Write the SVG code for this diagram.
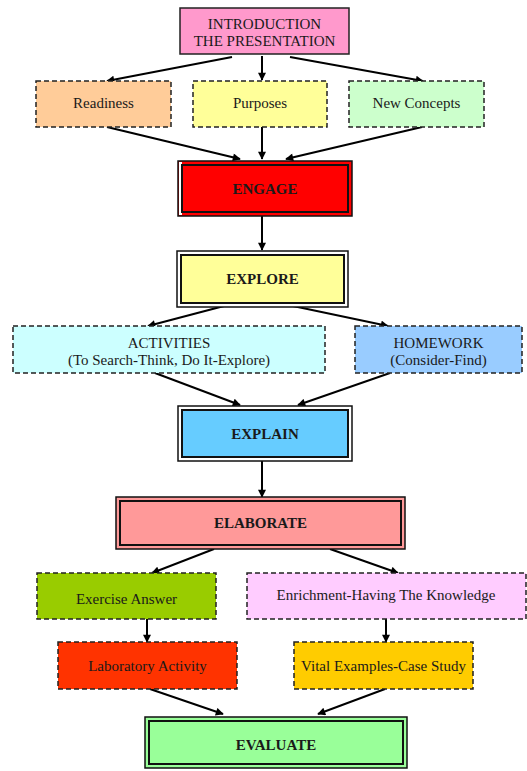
<svg xmlns="http://www.w3.org/2000/svg" width="527" height="771" viewBox="0 0 527 771">
<defs>
<marker id="ah" viewBox="0 0 10 10" refX="9" refY="5" markerWidth="9" markerHeight="8" markerUnits="userSpaceOnUse" orient="auto">
<path d="M0,0 L10,5 L0,10 z" fill="#000"/>
</marker>
<style>
text{font-family:"Liberation Serif","Times New Roman",serif;font-size:15px;fill:#1a1a1a;text-anchor:middle}
.b{font-weight:bold}
.dash{stroke:#222;stroke-width:1.5;stroke-dasharray:5,3}
.solid{stroke:#222;stroke-width:1.5}
.outer{stroke:#111;stroke-width:1.5}
.inner{stroke:#111;stroke-width:2}
.c line{stroke:#000;stroke-width:2;marker-end:url(#ah)}
</style>
</defs>
<rect width="527" height="771" fill="#fff"/>
<g class="c" id="connectors">
<line x1="232" y1="57" x2="107" y2="81"/>
<line x1="262" y1="56" x2="262" y2="80"/>
<line x1="290" y1="57" x2="423" y2="81"/>
<line x1="107" y1="127" x2="240" y2="159"/>
<line x1="262" y1="127" x2="262" y2="159"/>
<line x1="422" y1="127" x2="286" y2="159"/>
<line x1="262" y1="216" x2="262" y2="250"/>
<line x1="224" y1="306" x2="148" y2="326"/>
<line x1="293" y1="306" x2="388" y2="326"/>
<line x1="155" y1="373" x2="240" y2="405"/>
<line x1="390" y1="373" x2="298" y2="405"/>
<line x1="262" y1="461" x2="262" y2="497"/>
<line x1="214" y1="549" x2="152" y2="573"/>
<line x1="330" y1="549" x2="398" y2="573"/>
<line x1="147" y1="619" x2="147" y2="642"/>
<line x1="386" y1="619" x2="386" y2="642"/>
<line x1="150" y1="689" x2="223" y2="714"/>
<line x1="385" y1="689" x2="318" y2="714"/>
</g>
<g id="intro">
<rect x="180" y="8" width="169" height="46" fill="#FF99CC" class="solid"/>
<text x="264.5" y="29">INTRODUCTION</text>
<text x="264.5" y="46">THE PRESENTATION</text>
</g>
<g id="readiness">
<rect x="36" y="81" width="135" height="46" fill="#FFCC99" class="dash"/>
<text x="103.5" y="108">Readiness</text>
</g>
<g id="purposes">
<rect x="193" y="81" width="134" height="46" fill="#FFFF99" class="dash"/>
<text x="260" y="108">Purposes</text>
</g>
<g id="newconcepts">
<rect x="349" y="81" width="135" height="46" fill="#CCFFCC" class="dash"/>
<text x="416.5" y="108">New Concepts</text>
</g>
<g id="engage">
<rect x="178" y="161" width="174" height="55" fill="#FF0000" class="outer"/>
<rect x="179" y="162" width="3" height="53" fill="#fff"/>
<rect x="182" y="165" width="166" height="47" fill="#FF0000" class="inner"/>
<text x="265" y="194" class="b">ENGAGE</text>
</g>
<g id="explore">
<rect x="177" y="251" width="171" height="56" fill="#fff" class="outer"/>
<rect x="181" y="255" width="163" height="48" fill="#FFFF99" class="inner"/>
<text x="262.5" y="284" class="b">EXPLORE</text>
</g>
<g id="activities">
<rect x="13" y="326" width="312" height="47" fill="#CCFFFF" class="dash"/>
<text x="169" y="348">ACTIVITIES</text>
<text x="169" y="365">(To Search-Think, Do It-Explore)</text>
</g>
<g id="homework">
<rect x="355" y="326" width="167" height="47" fill="#99CCFF" class="dash"/>
<text x="438.5" y="348">HOMEWORK</text>
<text x="438.5" y="365">(Consider-Find)</text>
</g>
<g id="explain">
<rect x="178" y="406" width="174" height="55" fill="#fff" class="outer"/>
<rect x="182" y="410" width="166" height="47" fill="#66CCFF" class="inner"/>
<text x="265" y="439" class="b">EXPLAIN</text>
</g>
<g id="elaborate">
<rect x="116" y="497" width="289" height="52" fill="#FF9999" class="outer"/>
<rect x="120" y="501" width="281" height="44" fill="#FF9999" class="inner"/>
<text x="260.5" y="528" class="b">ELABORATE</text>
</g>
<g id="exercise">
<rect x="37" y="573" width="179" height="46" fill="#99CC00" class="dash"/>
<text x="126.5" y="604">Exercise Answer</text>
</g>
<g id="enrichment">
<rect x="247" y="573" width="279" height="46" fill="#FFCCFF" class="dash"/>
<text x="386" y="600">Enrichment-Having The Knowledge</text>
</g>
<g id="laboratory">
<rect x="58" y="642" width="179" height="47" fill="#FF3300" class="dash"/>
<text x="147.5" y="671">Laboratory Activity</text>
</g>
<g id="vital">
<rect x="294" y="642" width="179" height="47" fill="#FFCC00" class="dash"/>
<text x="383.5" y="671">Vital Examples-Case Study</text>
</g>
<g id="evaluate">
<rect x="145" y="717" width="262" height="51" fill="#99FF99" class="outer" stroke-width="2.5"/>
<rect x="149" y="721" width="254" height="43" fill="#99FF99" class="inner"/>
<text x="276" y="750" class="b">EVALUATE</text>
</g>
</svg>
